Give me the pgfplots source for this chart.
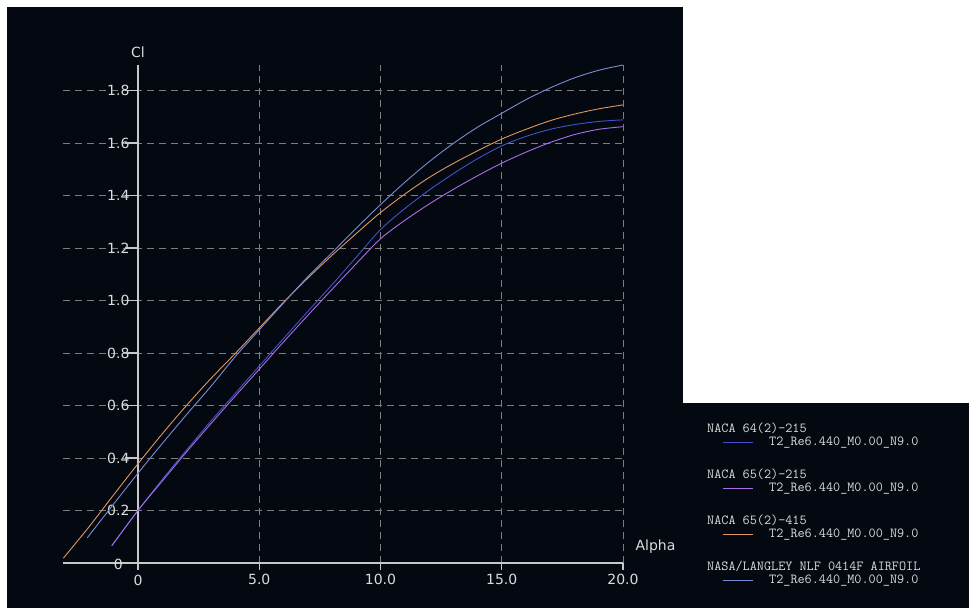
\documentclass[border=0pt]{standalone}
\usepackage{fontspec}
\setmainfont{DejaVu Sans}
\usepackage{pgfplots}
\pgfplotsset{compat=1.18}
\definecolor{bg}{RGB}{4,8,16}
\definecolor{axiscol}{RGB}{200,200,200}
\definecolor{gridcol}{RGB}{125,125,125}
\definecolor{lbl}{RGB}{220,220,220}
\definecolor{cnlf}{RGB}{120,140,210}
\definecolor{corange}{RGB}{222,150,100}
\definecolor{cblue}{RGB}{70,80,200}
\definecolor{cpurple}{RGB}{170,110,230}
\begin{document}
\begin{tikzpicture}[x=1pt,y=1pt]
\fill[white] (0,0) rectangle (969,608);
\fill[bg] (7,0) rectangle (683,601);
\fill[bg] (683,0) rectangle (969,205);
\begin{axis}[
  at={(62.8pt,45pt)}, anchor=south west,
  scale only axis, width=560.2pt, height=498pt,
  xmin=-3.1, xmax=20, ymin=0, ymax=1.897,
  axis x line=middle, axis y line=middle,
  axis line style={-, draw=axiscol, line width=1.5pt},
  xtick={0,5,10,15,20}, xticklabels={0,5.0,10.0,15.0,20.0},
  ytick={0,0.2,0.4,0.6,0.8,1.0,1.2,1.4,1.6,1.8},
  yticklabels={0,0.2,0.4,0.6,0.8,1.0,1.2,1.4,1.6,1.8},
  major tick length=0pt,
  ticklabel style={text=lbl, font=\fontsize{14}{14}\selectfont},
  yticklabel style={xshift=-5pt},
  xticklabel style={yshift=-8pt},
  grid=major,
  grid style={draw=gridcol, line width=0.9pt, dash pattern=on 7pt off 5pt},
  clip=false,
]
\pgfplotsinvokeforeach{0.2,0.4,0.6,0.8,1.0,1.2,1.4,1.6,1.8}{
  \draw[axiscol, line width=1.2pt] (axis cs:0,#1) -- ++(-13pt,0pt);
}
\pgfplotsinvokeforeach{0,5,10,15,20}{
  \draw[axiscol, line width=1.2pt] (axis cs:#1,0) -- ++(0pt,-7pt);
}
\addplot[cblue, line width=0.9pt, smooth] coordinates {
(-1.08,0.066) (0,0.2) (1,0.318) (2,0.43) (3,0.54) (4,0.645) (5,0.75) (6,0.855) (7,0.958) (8,1.06) (9,1.165) (10,1.27) (11,1.35) (12,1.42) (13,1.483) (14,1.54) (15,1.589) (16,1.625) (17,1.652) (18,1.67) (19,1.682) (20,1.688)};
\addplot[cpurple, line width=0.9pt, smooth] coordinates {
(-1.08,0.066) (0,0.2) (1,0.312) (2,0.423) (3,0.53) (4,0.635) (5,0.738) (6,0.842) (7,0.943) (8,1.042) (9,1.14) (10,1.235) (11,1.305) (12,1.367) (13,1.423) (14,1.475) (15,1.523) (16,1.565) (17,1.602) (18,1.632) (19,1.652) (20,1.662)};
\addplot[corange, line width=0.9pt, smooth] coordinates {
(-3.08,0.018) (-2,0.14) (-1,0.26) (0,0.378) (1,0.492) (2,0.6) (3,0.702) (4,0.797) (5,0.895) (6,0.993) (7,1.085) (8,1.172) (9,1.255) (10,1.335) (11,1.405) (12,1.468) (13,1.522) (14,1.57) (15,1.615) (16,1.652) (17,1.685) (18,1.71) (19,1.73) (20,1.745)};
\addplot[cnlf, line width=0.9pt, smooth] coordinates {
(-2.09,0.096) (-1,0.225) (0,0.342) (1,0.455) (2,0.565) (3,0.672) (4,0.785) (5,0.888) (6,0.99) (7,1.09) (8,1.182) (9,1.275) (10,1.365) (11,1.45) (12,1.528) (13,1.598) (14,1.66) (15,1.713) (16,1.765) (17,1.81) (18,1.848) (19,1.877) (20,1.897)};
\node[text=lbl, font=\fontsize{14}{14}\selectfont, anchor=base] at ([yshift=7pt]axis cs:0,1.897) {Cl};
\node[text=lbl, font=\fontsize{14}{14}\selectfont, anchor=base west] at ([xshift=9pt,yshift=13pt]axis cs:20,0) {Alpha};
\node[text=lbl, font=\fontsize{14}{14}\selectfont, anchor=east, inner sep=0pt] at ([xshift=-15pt,yshift=-1pt]axis cs:0,0) {0};
\node[text=lbl, font=\fontsize{14}{14}\selectfont, anchor=north, inner sep=0pt] at ([yshift=-12pt]axis cs:0,0) {0};
\end{axis}
% legend
\begin{scope}[every node/.style={text=lbl, font=\ttfamily\fontsize{13.8}{13.8}\selectfont, anchor=west, inner sep=0pt}]
\node at (707,180) {NACA 64(2)-215};
\draw[cblue, line width=0.9pt] (723,166) -- (753,166);
\node at (769,165.5) {T2\_Re6.440\_M0.00\_N9.0};
\node at (707,134) {NACA 65(2)-215};
\draw[cpurple, line width=0.9pt] (723,120) -- (753,120);
\node at (769,119.5) {T2\_Re6.440\_M0.00\_N9.0};
\node at (707,87.5) {NACA 65(2)-415};
\draw[corange, line width=0.9pt] (723,74) -- (753,74);
\node at (769,73.5) {T2\_Re6.440\_M0.00\_N9.0};
\node at (707,42) {NASA/LANGLEY NLF 0414F AIRFOIL};
\draw[cnlf, line width=0.9pt] (723,28) -- (753,28);
\node at (769,27.5) {T2\_Re6.440\_M0.00\_N9.0};
\end{scope}
\end{tikzpicture}
\end{document}
